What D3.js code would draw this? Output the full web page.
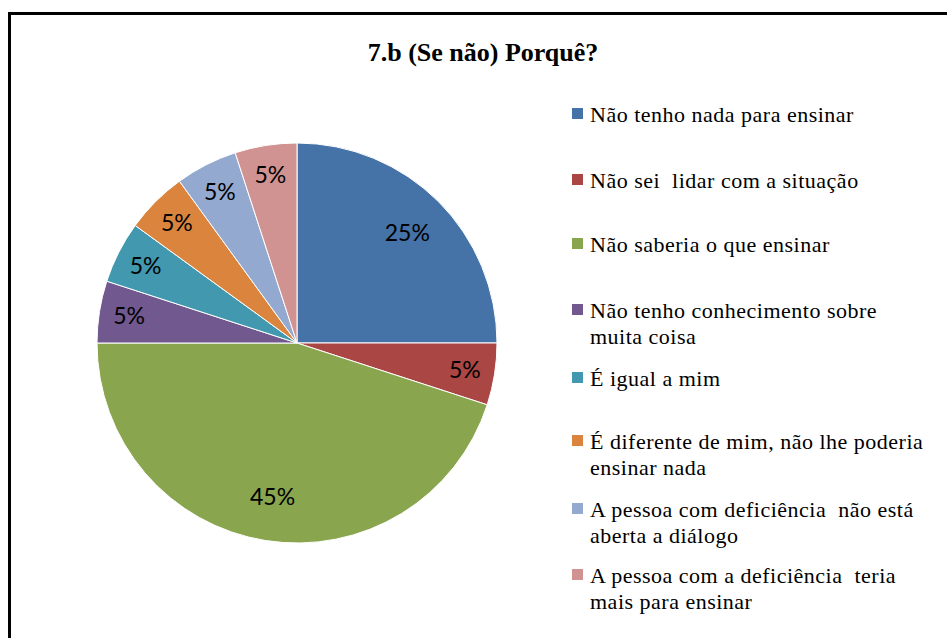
<!DOCTYPE html>
<html>
<head>
<meta charset="utf-8">
<script src="https://cdn.jsdelivr.net/npm/d3@7"></script>
<style>
  body { margin: 0; background: #fff; }
  svg { display: block; }
  .legend text { white-space: pre; }
</style>
</head>
<body>
<svg id="chart"></svg>
<script>
// answers, in legend order (line breaks as in the legend)
const categories = [
  "Não tenho nada para ensinar",
  "Não sei  lidar com a situação",
  "Não saberia o que ensinar",
  "Não tenho conhecimento sobre\nmuita coisa",
  "É igual a mim",
  "É diferente de mim, não lhe poderia\nensinar nada",
  "A pessoa com deficiência  não está\naberta a diálogo",
  "A pessoa com a deficiência  teria\nmais para ensinar"
];
const values = [25, 5, 45, 5, 5, 5, 5, 5];
const colors = ["#4572A7", "#AA4643", "#89A54E", "#71588F", "#4198AF", "#DB843D", "#93A9CF", "#D19392"];
const legendRows = [114, 180, 244, 310, 378, 441, 509, 575];

const width = 947, height = 638;
const cx = 297, cy = 343, r = 200;

const svg = d3.select("#chart").attr("width", width).attr("height", height);

// outer frame (runs off the right / bottom edge)
svg.append("rect")
  .attr("x", 9.5).attr("y", 13.5)
  .attr("width", 960).attr("height", 660)
  .attr("fill", "none").attr("stroke", "#000").attr("stroke-width", 3);

svg.append("text")
  .attr("x", 483).attr("y", 61)
  .attr("text-anchor", "middle")
  .style("font-family", "'Liberation Serif', 'Times New Roman', serif")
  .style("font-weight", "bold")
  .style("font-size", "26px")
  .text("7.b (Se não) Porquê?");

const pie = d3.pie().sort(null).value(d => d);
const arcs = pie(values);
const arc = d3.arc().innerRadius(0).outerRadius(r);
const color = d3.scaleOrdinal().domain(d3.range(values.length)).range(colors);

const g = svg.append("g").attr("transform", `translate(${cx},${cy})`);

g.selectAll("path")
  .data(arcs)
  .enter()
  .append("path")
  .attr("d", arc)
  .attr("fill", (d, i) => color(i))
  .attr("stroke", "#fff")
  .attr("stroke-width", 1);

const total = d3.sum(values);
g.selectAll("text.lbl")
  .data(arcs)
  .enter()
  .append("text")
  .attr("class", "lbl")
  .attr("transform", d => {
    const k = d.value >= 20 ? 0.78 : 0.85;
    const c = d3.arc().innerRadius(r * k).outerRadius(r * k).centroid(d);
    return `translate(${c[0]},${c[1]})`;
  })
  .attr("text-anchor", "middle")
  .attr("dy", "0.35em")
  .style("font-family", "Lato, 'Open Sans', sans-serif")
  .style("font-size", "23px")
  .style("fill", "#000")
  .text(d => Math.round(d.value / total * 100) + "%");

// legend
const legend = svg.append("g").attr("class", "legend");
const items = legend.selectAll("g")
  .data(categories)
  .enter()
  .append("g")
  .attr("transform", (d, i) => `translate(0,${legendRows[i]})`);

items.append("rect")
  .attr("x", 572).attr("y", -6)
  .attr("width", 11).attr("height", 11)
  .attr("fill", (d, i) => color(i));

items.append("text")
  .attr("x", 590)
  .style("font-family", "'Liberation Serif', 'Times New Roman', serif")
  .style("font-size", "22px")
  .style("letter-spacing", "0.5px")
  .style("fill", "#000")
  .selectAll("tspan")
  .data(d => d.split("\n"))
  .enter()
  .append("tspan")
  .attr("x", 590)
  .attr("dy", (d, i) => i === 0 ? "0.35em" : "26px")
  .text(d => d);
</script>
</body>
</html>
